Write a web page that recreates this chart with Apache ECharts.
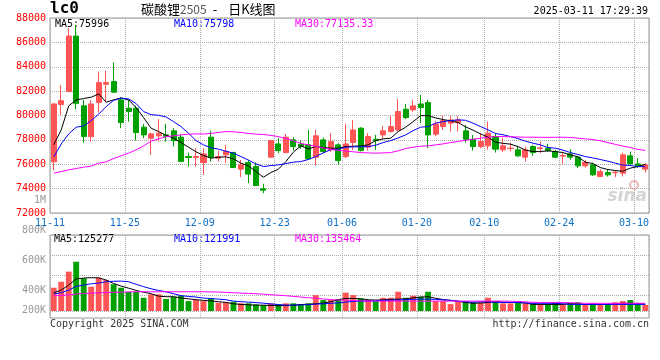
<!DOCTYPE html>
<html><head><meta charset="utf-8">
<script src="https://cdn.jsdelivr.net/npm/echarts@6/dist/echarts.min.js"></script>
<style>html,body{margin:0;padding:0;background:#fff}#c{width:660px;height:360px}</style>
</head><body><div id="c"></div>
<script>
const dates = ['11-11','11-12','11-13','11-14','11-15','11-18','11-19','11-20','11-21','11-22','11-25','11-26','11-27','11-28','11-29',
'12-02','12-03','12-04','12-05','12-06','12-09','12-10','12-11','12-12','12-13','12-16','12-17','12-18','12-19','12-20','12-23','12-24','12-25','12-26','12-27','12-30','12-31',
'01-02','01-03','01-06','01-07','01-08','01-09','01-10','01-13','01-14','01-15','01-16','01-17','01-20','01-21','01-22','01-23','01-24','01-27',
'02-05','02-06','02-07','02-10','02-11','02-12','02-13','02-14','02-17','02-18','02-19','02-20','02-21','02-24','02-25','02-26','02-27','02-28',
'03-03','03-04','03-05','03-06','03-07','03-10','03-11'];
const dateTicks = ['11-11','11-25','12-09','12-23','01-06','01-20','02-10','02-24','03-10'];

const opens = [76200,80900,81960,86520,80790,78270,81060,82560,82780,81280,80600,80600,79040,78140,78330,78410,78740,78220,76630,76550,
76140,78220,76500,76770,76960,75600,76140,75810,73980,76580,77670,76960,78000,77640,77590,76580,78000,77180,77590,76630,
77780,78960,77400,78050,78410,78680,78820,80520,80460,80950,81060,78470,79090,79370,79420,78740,78050,77450,77510,78270,
77180,77280,77180,76580,77450,77300,77320,77040,76670,76850,76580,75870,75950,74990,75320,75300,75270,76690,76030,75600];
const closes = [80950,81220,86520,81000,78270,80950,82700,82700,81910,79420,80320,78600,78410,78490,78550,78270,77940,76220,76550,76630,
76850,76580,76630,77040,75730,75950,75190,74250,73870,77940,77120,78220,77450,77450,76440,78330,77040,77860,76300,77670,
78820,77120,78270,77940,78740,79090,80320,79830,80790,80650,78410,79310,79580,79640,79640,78050,77450,77860,78550,77240,
77510,77320,76690,77180,76960,77340,77120,76580,76710,76580,75870,76140,75130,75400,75130,75340,76770,76030,75810,75950];
const lows = [75480,80050,81960,80520,77780,77860,80240,81100,81900,78960,79500,77940,78140,76770,77860,77860,77450,76220,75810,75810,
75130,76220,76220,76090,75730,74940,74450,74250,73630,76500,76910,76900,77120,77260,76400,75900,76900,77000,75950,76500,
77180,77040,77120,77180,78050,78600,78700,79700,80300,79370,77320,78300,78820,78680,78680,77780,77120,77300,77200,76960,
77000,77040,76600,76220,76690,76910,77000,76500,76030,76360,75680,75700,75050,74990,74990,74940,74990,75950,75700,75320];
const highs = [81000,82500,87180,87430,81280,81280,83600,83680,84340,81500,81280,80800,79310,78600,79700,79310,78960,78490,76960,77320,
77320,78760,77120,77590,77040,76360,76360,76140,74390,78000,78140,78490,78220,77940,78820,78820,78190,78550,77730,79310,
79640,79040,78550,78410,79150,79970,81360,80950,81280,81690,81280,79560,80000,79970,79970,79230,78410,78550,79500,78550,
78140,77780,77510,77450,77590,77860,77670,77180,77040,77240,76690,76360,76140,75590,75590,75480,76960,77040,76500,76090];

const ma5 = [77600,78820,80790,81280,81390,81500,81770,81090,81280,81440,81280,80650,79830,78960,78680,78380,78140,77780,77400,77020,
76720,76500,76580,76610,76440,76090,75870,75400,74940,75320,75600,76220,76990,77510,77260,77450,77370,77320,77320,77450,
77480,77510,77590,77940,78080,78140,78680,79040,79500,79990,79990,79800,79670,79560,79420,79070,78800,78490,78220,77810,
77720,77650,77450,77160,77040,77040,77100,77040,76960,76770,76610,76170,76060,75730,75570,75480,75430,75680,75810,75996];
const ma10 = [76600,77670,78490,79040,79150,79580,80110,80730,81250,81420,81360,80980,80320,80070,80020,79880,79500,79090,78550,77940,
77590,77350,77240,77070,76910,76630,76340,76030,75810,75890,75950,76060,76170,76220,76390,76630,76930,77200,77240,77400,
77430,77430,77450,77560,77780,77940,78160,78410,78760,79040,79090,79370,79500,79580,79640,79610,79370,79090,78820,78520,
78420,78270,78110,77890,77730,77590,77370,77320,77160,76960,76800,76630,76520,76390,76250,76090,75930,75900,75810,75798];
const ma30 = [75270,75400,75540,75650,75760,75840,76090,76200,76470,76690,76910,77180,77510,77890,78080,78270,78330,78410,78470,78490,
78480,78530,78610,78680,78660,78610,78530,78470,78440,78370,78270,78120,77920,77710,77590,77470,77340,77220,77140,77080,
77020,76960,76930,76910,76930,76960,77100,77290,77400,77480,77510,77590,77670,77780,77860,77970,78050,78140,78220,78270,
78270,78255,78237,78221,78221,78213,78205,78213,78221,78196,78140,78080,78030,77918,77778,77631,77490,77369,77221,77135];

const volumes = [420000,460000,527000,593000,483000,427000,487000,471000,443000,420000,
393000,393000,353000,376000,376000,345000,360000,367000,331000,338000,
331000,349000,320000,323000,327000,316000,316000,309000,305000,316000,
309000,316000,316000,309000,316000,371000,338000,338000,345000,387000,
371000,349000,338000,331000,353000,353000,393000,353000,367000,360000,
393000,331000,331000,311000,331000,331000,323000,323000,353000,331000,
316000,316000,331000,316000,316000,311000,311000,323000,311000,316000,
323000,311000,316000,311000,309000,323000,331000,338000,316000,305000];
const volMa5 = [386700,404000,438000,479000,484000,487000,486000,471000,448000,431000,
417000,402000,390000,380000,364000,360000,360000,352000,346000,340000,
336000,332000,327000,322000,313000,309000,306000,304000,304000,302000,
300000,302000,304000,308000,310000,313000,318000,327000,340000,349000,
349000,346000,340000,338000,339000,343000,344000,346000,353000,358000,
360000,350000,341000,336000,330000,322000,317000,318000,322000,327000,
324000,322000,322000,318000,309000,309000,309000,309000,309000,314000,
312000,309000,309000,309000,309000,313000,316000,316000,316000,311000];
const volMa10 = [378000,387000,404000,429000,438000,446000,451000,460000,463000,464000,
460000,443000,427000,413000,402000,393000,380000,367000,362000,358000,
351000,348000,344000,340000,331000,327000,324000,321000,317000,312000,
308000,304000,304000,305000,307000,311000,313000,316000,319000,324000,
329000,331000,331000,333000,336000,337000,338000,341000,343000,344000,
344000,342000,339000,336000,330000,326000,323000,327000,326000,323000,
322000,322000,321000,319000,316000,316000,316000,316000,313000,309000,
309000,309000,309000,309000,309000,309000,309000,309000,309000,309000];
const volMa30 = [366000,369000,372000,378000,382000,384000,386000,388000,389000,390000,
392000,393000,393000,393000,393000,393000,393000,393000,393000,393000,
393000,392000,391000,389000,387000,384000,382000,380000,377000,373000,
370000,367000,362000,358000,353000,350000,345000,341000,338000,337000,
335000,332000,331000,331000,331000,331000,331000,331000,331000,331000,
331000,331000,331000,331000,331000,331000,331000,331000,331000,331000,
331000,330000,328000,326000,323000,322000,322000,322000,322000,320000,
318000,316000,316000,316000,316000,316000,316000,316000,316000,316000];

const priceMin = 72000, priceMax = 88000, priceStep = 2000;
const volBase = 265000, volTop = 771000;          // bar panel value range
const volLabelMax = 1000000, volLabelStep = 200000;

const headerTexts = {code:'lc0', name:'碳酸锂', contract:'2505', dash:'-', kind:'日K线图', time:'2025-03-11 17:29:39'};
const maTexts = ['MA5:75996','MA10:75798','MA30:77135.33'];
const volMaTexts = ['MA5:125277','MA10:121991','MA30:135464'];
const footerTexts = ['Copyright 2025 SINA.COM','http://finance.sina.com.cn'];

const MONO = '"DejaVu Sans Mono", monospace';
const RED = '#ff5555', GREEN = '#00a000';
const C5 = '#000000', C10 = '#0000ff', C30 = '#ff00ff';
const GRIDC = '#aaaaaa';
const tickSet = new Set(dateTicks);
const showTick = (i) => tickSet.has(dates[i]);
const dotted = {color: GRIDC, type: [1, 1], width: 1};

const chart = echarts.init(document.getElementById('c'), null, {renderer: 'canvas'});

function fmtVol(v) { return v >= 1000000 ? (v / 1000000) + 'M' : (v / 1000) + 'K'; }
function line(name, data, color, xi, yi) {
  return {name, type: 'line', data, xAxisIndex: xi, yAxisIndex: yi, symbol: 'none',
    lineStyle: {color, width: 1}, itemStyle: {color}, silent: true, z: 5};
}

const option = {
  animation: false,
  backgroundColor: '#fff',
  grid: [
    {left: 50, right: 11, top: 18, height: 195, show: true, borderColor: '#999', borderWidth: 1, backgroundColor: 'transparent'},
    {left: 50, right: 11, top: 235, height: 83, show: true, borderColor: '#999', borderWidth: 1, backgroundColor: 'transparent'},
    {left: 50, right: 11, top: 235, height: 76},
    {left: 50, right: 11, top: 200.7, height: 150}
  ],
  xAxis: [
    {type: 'category', gridIndex: 0, data: dates, boundaryGap: true,
      axisLine: {show: false}, axisTick: {show: false},
      axisLabel: {interval: (i) => showTick(i), color: '#1070c8', fontFamily: MONO, fontSize: 10, margin: 5, padding: [0, 7.5, 0, 0]},
      splitLine: {show: true, interval: (i) => showTick(i), lineStyle: dotted}},
    {type: 'category', gridIndex: 1, data: dates, boundaryGap: true,
      axisLine: {show: false}, axisTick: {show: false}, axisLabel: {show: false},
      splitLine: {show: true, interval: (i) => showTick(i), lineStyle: dotted}},
    {type: 'category', gridIndex: 2, data: dates, boundaryGap: true, show: false},
    {type: 'value', gridIndex: 3, show: false}
  ],
  yAxis: [
    {type: 'value', gridIndex: 0, min: priceMin, max: priceMax, interval: priceStep,
      axisLine: {show: false}, axisTick: {show: false},
      axisLabel: {color: '#ff0000', fontFamily: MONO, fontSize: 10, margin: 4, formatter: (v) => String(v)},
      splitLine: {show: true, lineStyle: dotted}},
    {type: 'value', gridIndex: 1, show: false},
    {type: 'value', gridIndex: 2, min: volBase, max: volTop, show: false},
    {type: 'value', gridIndex: 2, inverse: true, min: 0, max: 3.8, interval: 1, position: 'left',
      axisLine: {show: false}, axisTick: {show: false}, axisLabel: {show: false},
      splitLine: {show: true, lineStyle: dotted}},
    {type: 'value', gridIndex: 3, min: 0, max: volLabelMax, interval: volLabelStep,
      axisLine: {show: false}, axisTick: {show: false}, splitLine: {show: false},
      axisLabel: {color: '#999', fontFamily: MONO, fontSize: 10, margin: 4,
        formatter: (v) => v === 0 ? '' : (v < volBase ? '{up|' + fmtVol(v) + '}' : fmtVol(v)),
        rich: {up: {color: '#999', fontFamily: MONO, fontSize: 10, padding: [0, 0, 20, 0]}}}}
  ],
  series: [
    {type: 'candlestick', xAxisIndex: 0, yAxisIndex: 0, barWidth: '74%',
      data: dates.map((d, i) => [opens[i], closes[i], lows[i], highs[i]]),
      itemStyle: {color: RED, color0: GREEN, borderColor: RED, borderColor0: GREEN, borderWidth: 1}, z: 3},
    line('MA5', ma5, C5, 0, 0),
    line('MA10', ma10, C10, 0, 0),
    line('MA30', ma30, C30, 0, 0),
    {type: 'bar', xAxisIndex: 2, yAxisIndex: 2, barWidth: '78%', data: volumes,
      itemStyle: {color: (p) => closes[p.dataIndex] >= opens[p.dataIndex] ? RED : GREEN}, z: 3},
    line('VMA5', volMa5, C5, 2, 2),
    line('VMA10', volMa10, C10, 2, 2),
    line('VMA30', volMa30, C30, 2, 2)
  ],
  graphic: [
    {type: 'text', left: 50, top: 1, style: {text: headerTexts.code, font: 'bold 16px ' + MONO, fill: '#000'}},
    {type: 'text', left: 141, top: 3, style: {
      text: '{a|' + headerTexts.name + '}{b|' + headerTexts.contract + '}{d|' + headerTexts.dash + '}{a|' + headerTexts.kind + '}',
      rich: {
        a: {font: '13px "Noto Sans CJK SC"', fill: '#000', color: '#000'},
        b: {font: '12px "Noto Sans CJK SC"', fill: '#555', color: '#555'},
        d: {font: '13px "Noto Sans CJK SC"', fill: '#000', color: '#000', padding: [0, 11, 0, 6]}}}},
    {type: 'text', right: 12, top: 6, style: {text: headerTexts.time, font: '10px ' + MONO, fill: '#000'}},
    {type: 'text', left: 55, top: 19, style: {text: maTexts[0], font: '10px ' + MONO, fill: C5}},
    {type: 'text', left: 174, top: 19, style: {text: maTexts[1], font: '10px ' + MONO, fill: C10}},
    {type: 'text', left: 295, top: 19, style: {text: maTexts[2], font: '10px ' + MONO, fill: C30}},
    {type: 'text', left: 54, top: 234, style: {text: volMaTexts[0], font: '10px ' + MONO, fill: C5}},
    {type: 'text', left: 174, top: 234, style: {text: volMaTexts[1], font: '10px ' + MONO, fill: C10}},
    {type: 'text', left: 295, top: 234, style: {text: volMaTexts[2], font: '10px ' + MONO, fill: C30}},
    {type: 'text', left: 50, top: 319, style: {text: footerTexts[0], font: '10px ' + MONO, fill: '#333'}},
    {type: 'text', right: 11, top: 319, style: {text: footerTexts[1], font: '10px ' + MONO, fill: '#333'}},
    {type: 'text', right: 13, top: 188, style: {text: 'sina', font: 'italic bold 17px "DejaVu Sans"', fill: '#d4d4d4'}},
    {type: 'circle', shape: {cx: 634, cy: 185, r: 4}, style: {fill: 'none', stroke: '#f3b8b8', lineWidth: 2}}
  ]
};
chart.setOption(option);
</script>
</body></html>
